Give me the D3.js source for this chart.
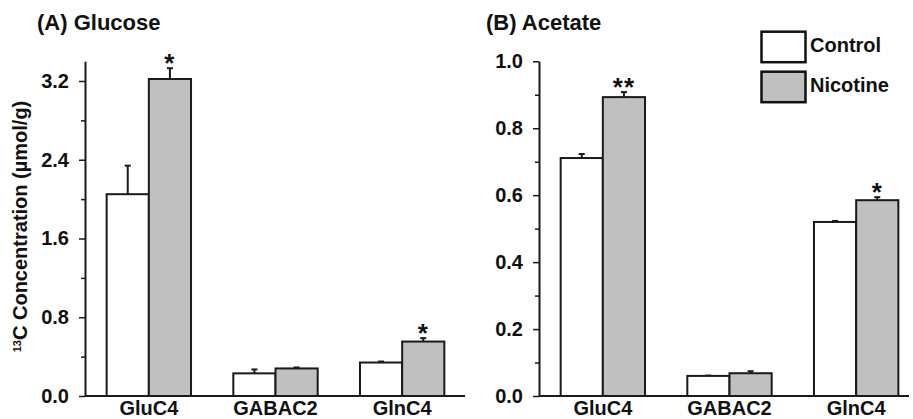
<!DOCTYPE html>
<html>
<head>
<meta charset="utf-8">
<script src="https://cdn.jsdelivr.net/npm/d3@7"></script>
<style>
  html, body { margin: 0; padding: 0; background: #fff; }
  svg { display: block; }
  text { font-family: "Liberation Sans", Arial, sans-serif; font-weight: bold; fill: #111; }
</style>
</head>
<body>
<svg id="chart" width="913" height="419"></svg>
<script>
// ---- data ----
const categories = ["GluC4", "GABAC2", "GlnC4"];
const seriesNames = ["Control", "Nicotine"];

const glucoseControl = [2.05, 0.23, 0.34];
const glucoseControlErr = [0.29, 0.04, 0.01];
const glucoseNicotine = [3.22, 0.28, 0.553];
const glucoseNicotineErr = [0.11, 0.01, 0.035];

const acetateControl = [0.711, 0.06, 0.52];
const acetateControlErr = [0.012, 0.001, 0.003];
const acetateNicotine = [0.893, 0.068, 0.585];
const acetateNicotineErr = [0.015, 0.006, 0.009];

const glucoseMarks = ["*", "", "*"];   // significance over Nicotine bars
const acetateMarks = ["**", "", "*"];

const glucoseTicks = [0, 0.8, 1.6, 2.4, 3.2];
const glucoseMinor = [0.4, 1.2, 2.0, 2.8];
const acetateTicks = [0, 0.2, 0.4, 0.6, 0.8, 1.0];
const acetateMinor = [0.1, 0.3, 0.5, 0.7, 0.9];

const panelTitles = ["(A) Glucose", "(B) Acetate"];
const yTitleSup = "13";
const yTitleMain = "C Concentration (\u00b5mol/g)";

// ---- drawing ----
const svg = d3.select("#chart");
const ink = "#1a1a1a";
const colors = { Control: "#ffffff", Nicotine: "#c0c0c0" };

function panel(opts) {
  const g = svg.append("g");
  const y = d3.scaleLinear().domain(opts.domain).range([396, opts.yTop]);
  const x0 = d3.scaleBand().domain(categories)
    .range([opts.axisX, opts.axisX + 381])
    .paddingInner(0.334).paddingOuter(0.171);
  const x1 = d3.scaleBand().domain(seriesNames).range([0, x0.bandwidth()]).padding(0);

  // y axis (major)
  const yAxis = d3.axisLeft(y).tickValues(opts.ticks).tickFormat(d3.format(".1f"))
    .tickSize(6).tickPadding(10).tickSizeOuter(0);
  const ga = g.append("g").attr("transform", `translate(${opts.axisX},0)`).call(yAxis);
  ga.select(".domain").attr("stroke", ink).attr("stroke-width", 2);
  ga.selectAll(".tick line").attr("stroke", ink).attr("stroke-width", 1.5);
  ga.selectAll(".tick text").attr("font-size", 20).attr("font-weight", "bold")
    .attr("fill", "#111").attr("font-family", '"Liberation Sans", Arial, sans-serif');
  // minor ticks
  const yMinor = d3.axisLeft(y).tickValues(opts.minor).tickFormat("").tickSize(4).tickSizeOuter(0);
  const gm = g.append("g").attr("transform", `translate(${opts.axisX},0)`).call(yMinor);
  gm.select(".domain").remove();
  gm.selectAll(".tick line").attr("stroke", ink).attr("stroke-width", 1.5);

  // x axis
  const xAxis = d3.axisBottom(x0).tickSize(0).tickPadding(5).tickSizeOuter(0);
  const gx = g.append("g").attr("transform", `translate(0,${y(0)})`).call(xAxis);
  gx.select(".domain").attr("stroke", ink).attr("stroke-width", 2)
    .attr("d", `M${opts.axisX},0H${opts.xEnd}`);
  gx.selectAll(".tick text").attr("font-size", 20).attr("font-weight", "bold")
    .attr("fill", "#111").attr("font-family", '"Liberation Sans", Arial, sans-serif')
    .attr("dy", "0.71em");

  const rows = [];
  categories.forEach((c, i) => {
    seriesNames.forEach((s, j) => {
      const vals = j === 0 ? opts.control : opts.nicotine;
      const errs = j === 0 ? opts.controlErr : opts.nicotineErr;
      rows.push({ c, s, v: vals[i], e: errs[i], mark: j === 1 ? opts.marks[i] : "" });
    });
  });

  // error bars
  const eg = g.append("g").attr("stroke", ink).attr("stroke-width", 2);
  rows.forEach(d => {
    const cx = x0(d.c) + x1(d.s) + x1.bandwidth() / 2;
    eg.append("line").attr("x1", cx).attr("x2", cx).attr("y1", y(d.v)).attr("y2", y(d.v + d.e));
    eg.append("line").attr("x1", cx - 3).attr("x2", cx + 3).attr("y1", y(d.v + d.e)).attr("y2", y(d.v + d.e));
  });

  // bars
  g.append("g").selectAll("rect").data(rows).join("rect")
    .attr("x", d => x0(d.c) + x1(d.s))
    .attr("y", d => y(d.v))
    .attr("width", x1.bandwidth())
    .attr("height", d => y(0) - y(d.v))
    .attr("fill", d => colors[d.s])
    .attr("stroke", ink).attr("stroke-width", 2);

  // significance marks
  g.append("g").selectAll("text").data(rows.filter(d => d.mark)).join("text")
    .attr("x", d => x0(d.c) + x1(d.s) + x1.bandwidth() / 2)
    .attr("y", d => y(d.v + d.e) + 4)
    .attr("text-anchor", "middle")
    .attr("font-size", 26)
    .attr("letter-spacing", 1)
    .text(d => d.mark);

  // title
  g.append("text").attr("x", opts.titleX).attr("y", 30).attr("font-size", 22).text(opts.title);
  return g;
}

panel({
  domain: [0, 3.4], yTop: 61.3, axisX: 85, xEnd: 465,
  ticks: glucoseTicks, minor: glucoseMinor,
  control: glucoseControl, controlErr: glucoseControlErr,
  nicotine: glucoseNicotine, nicotineErr: glucoseNicotineErr,
  marks: glucoseMarks, title: panelTitles[0], titleX: 37
});

panel({
  domain: [0, 1.0], yTop: 61.3, axisX: 539, xEnd: 909,
  ticks: acetateTicks, minor: acetateMinor,
  control: acetateControl, controlErr: acetateControlErr,
  nicotine: acetateNicotine, nicotineErr: acetateNicotineErr,
  marks: acetateMarks, title: panelTitles[1], titleX: 486
});

// y-axis title (panel A)
const yt = svg.append("text")
  .attr("transform", "translate(27,226.5) rotate(-90)")
  .attr("text-anchor", "middle")
  .attr("font-size", 20);
yt.append("tspan").attr("font-size", 11).attr("dy", -6).text(yTitleSup);
yt.append("tspan").attr("dy", 6).text(yTitleMain);

// legend
const lg = svg.append("g");
seriesNames.forEach((s, i) => {
  const yy = 31.7 + i * 40;
  lg.append("rect").attr("x", 761.5).attr("y", yy).attr("width", 44).attr("height", 30.5)
    .attr("fill", colors[s]).attr("stroke", "#111").attr("stroke-width", 2.5);
  lg.append("text").attr("x", 810).attr("y", yy + 20.3).attr("font-size", 20).text(s);
});
</script>
</body>
</html>
